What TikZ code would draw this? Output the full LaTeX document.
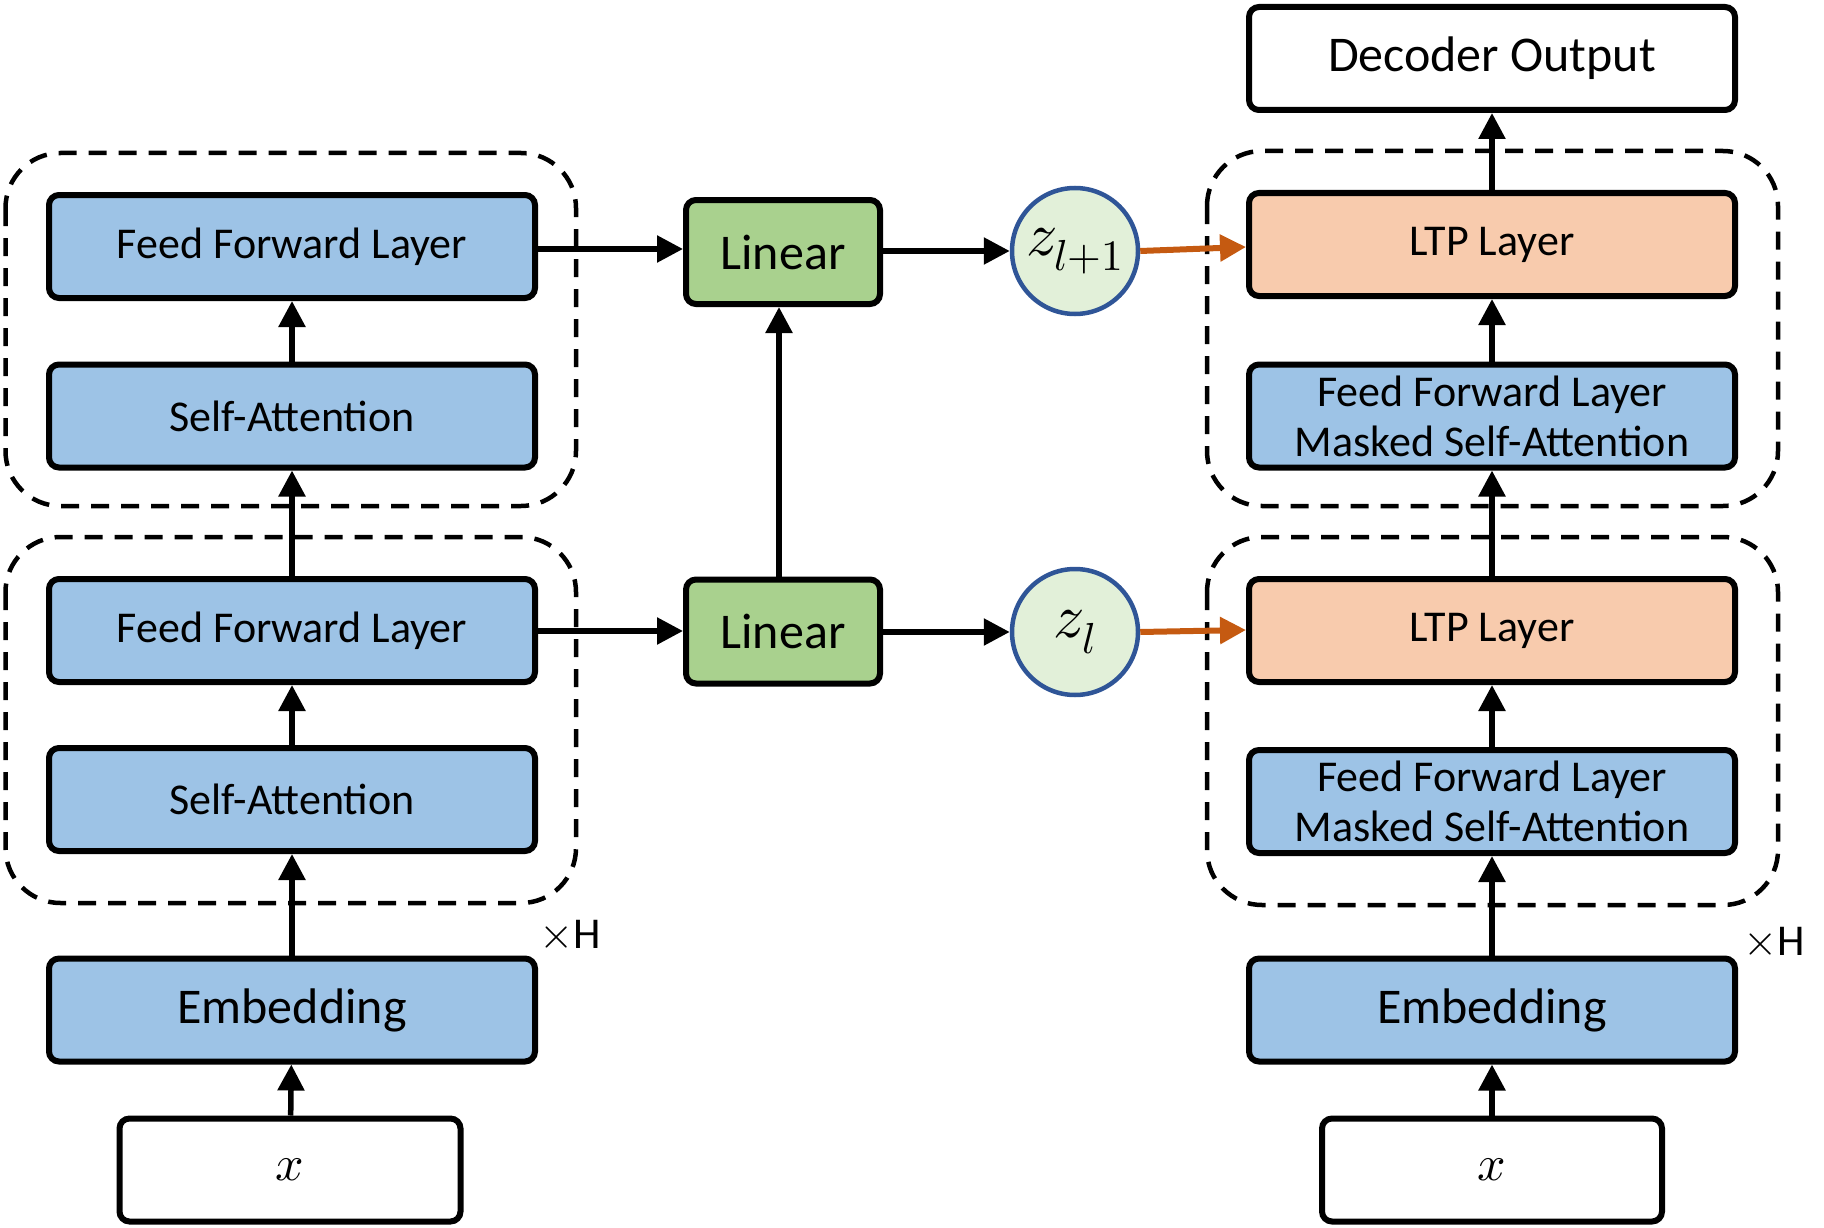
\documentclass[tikz,border=0pt]{standalone}
\usepackage{fontspec}
\usepackage{unicode-math}
\setmainfont{Carlito}
\setmathfont{Latin Modern Math}
\usetikzlibrary{arrows.meta,positioning}
\definecolor{boxblue}{HTML}{9DC3E6}
\definecolor{boxgreen}{HTML}{A9D18E}
\definecolor{boxpeach}{HTML}{F8CBAD}
\definecolor{circfill}{HTML}{E2F0D9}
\definecolor{circline}{HTML}{2F5597}
\definecolor{arrorange}{HTML}{C55A11}
\tikzset{
  basebox/.style={draw=black, line width=6pt, rounded corners=10pt, inner sep=0pt, align=center,
    minimum width=486pt, minimum height=103pt, font=\fontsize{44}{50}\selectfont},
  bluebox/.style={basebox, fill=boxblue},
  peachbox/.style={basebox, fill=boxpeach},
  whitebox/.style={basebox, fill=white},
  linbox/.style={basebox, fill=boxgreen, minimum width=194pt, minimum height=104pt, font=\fontsize{50}{56}\selectfont},
  bigtext/.style={font=\fontsize{50}{56}\selectfont},
  xtext/.style={font=\fontsize{50}{56}\selectfont},
  zcirc/.style={circle, draw=circline, fill=circfill, line width=4.5pt, minimum size=126pt, inner sep=0pt, font=\fontsize{62}{66}\selectfont},
  group/.style={draw=black, line width=4.5pt, dash pattern=on 18pt off 12pt, rounded corners=55pt},
  arr/.style={draw=black, line width=5.5pt, -{Triangle[width=26pt,length=26pt]}},
  oarr/.style={draw=arrorange, line width=6pt, -{Triangle[width=26pt,length=26pt]}},
  hlabel/.style={font=\fontsize{44}{48}\selectfont, inner sep=0pt}
}
\begin{document}
\begin{tikzpicture}[x=1pt,y=-1pt]
\useasboundingbox (0,0) rectangle (1824,1228);
% dashed groups
\draw[group] (5.5,153) rectangle (576,506);
\draw[group] (5.5,537) rectangle (576,903);
\draw[group] (1207,151) rectangle (1778,506);
\draw[group] (1207,537) rectangle (1778,905);
% left column
\node[bluebox] (lffl2) at (292,246.5) {Feed Forward Layer};
\node[bluebox] (lsa2) at (292,416) {Self-Attention};
\node[bluebox] (lffl1) at (292,630.5) {Feed Forward Layer};
\node[bluebox] (lsa1) at (292,799.5) {Self-Attention};
\node[bluebox, bigtext] (lemb) at (292,1010) {Embedding};
\node[whitebox, xtext, minimum width=341pt] (lx) at (290,1170) {$x$};
% middle
\node[linbox] (lin2) at (783,252) {Linear};
\node[linbox] (lin1) at (783,631.5) {Linear};
\node[zcirc] (z2) at (1075,251) {$z_{l+1}$};
\node[zcirc] (z1) at (1075,632) {$z_{l}$};
% right column
\node[whitebox, bigtext] (dec) at (1492,58.5) {Decoder Output};
\node[peachbox] (ltp2) at (1492,244.5) {LTP Layer};
\node[bluebox] (rfm2) at (1492,416) {Feed Forward Layer\\Masked Self-Attention};
\node[peachbox] (ltp1) at (1492,630.5) {LTP Layer};
\node[bluebox] (rfm1) at (1492,801.5) {Feed Forward Layer\\Masked Self-Attention};
\node[bluebox, bigtext] (remb) at (1492,1010) {Embedding};
\node[whitebox, xtext, minimum width=340pt] (rx) at (1492,1170) {$x$};
% labels
\node[hlabel] (h1) at (570,934) {$\times\mathrm{H}$};
\node[hlabel] (h2) at (1774,941) {$\times\mathrm{H}$};
% left arrows
\draw[arr] (lx) -- (lemb);
\draw[arr] (lemb) -- (lsa1);
\draw[arr] (lsa1) -- (lffl1);
\draw[arr] (lffl1) -- (lsa2);
\draw[arr] (lsa2) -- (lffl2);
\draw[arr] (lffl2.east |- 0,249) -- (lin2.west |- 0,249);
\draw[arr] (lffl1.east |- 0,631) -- (lin1.west |- 0,631);
\draw[arr] (lin1.north -| 779,0) -- (lin2.south -| 779,0);
\draw[arr] (lin2.east |- 0,251) -- (z2.west);
\draw[arr] (lin1.east |- 0,632) -- (z1.west);
\draw[oarr] (z2.east) -- (ltp2.west |- 0,247);
\draw[oarr] (z1.east) -- (ltp1.west |- 0,630);
% right arrows
\draw[arr] (rx) -- (remb);
\draw[arr] (remb) -- (rfm1);
\draw[arr] (rfm1) -- (ltp1);
\draw[arr] (ltp1) -- (rfm2);
\draw[arr] (rfm2) -- (ltp2);
\draw[arr] (ltp2) -- (dec);
\end{tikzpicture}
\end{document}
